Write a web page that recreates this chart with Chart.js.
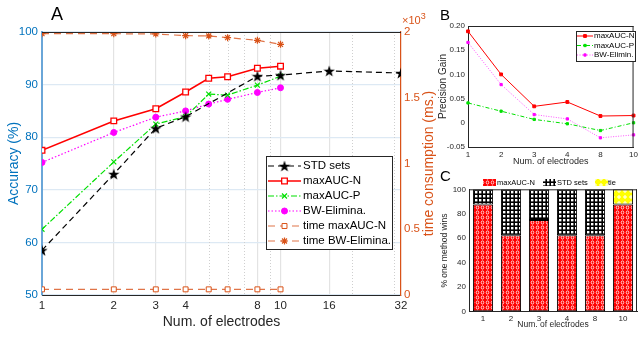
<!DOCTYPE html>
<html>
<head>
<meta charset="utf-8">
<script src="https://cdn.jsdelivr.net/npm/chart.js@4.4.0/dist/chart.umd.min.js"></script>
<style>
body { margin: 0; background: #fff; width: 641px; height: 337px; overflow: hidden; position: relative; font-family: "Liberation Sans", Arial, sans-serif; }
canvas { position: absolute; }
.lbl { position: absolute; color: #000; white-space: nowrap; }
</style>
</head>
<body>
<canvas id="cA" width="445" height="337" style="left:0;top:0"></canvas>
<canvas id="cB" width="211" height="172" style="left:430px;top:0"></canvas>
<canvas id="cC" width="211" height="167" style="left:430px;top:170px"></canvas>
<div class="lbl" style="left:51px;top:5px;font-size:18px;line-height:18px">A</div>
<div class="lbl" style="left:440px;top:7px;font-size:15px;line-height:15px">B</div>
<div class="lbl" style="left:440px;top:168px;font-size:15px;line-height:15px">C</div>
<div class="lbl" style="left:402px;top:15px;font-size:11px;line-height:11px;color:#d95319">&times;10<span style="font-size:9px;position:relative;top:-5px">3</span></div>
<script>
// panel A: accuracy / time vs number of electrodes
var elecA = [1, 2, 3, 4, 5, 6, 8, 10];
var elecStd = [1, 2, 3, 4, 8, 10, 16, 32];
var accStd = [58.5, 73.0, 81.7, 83.9, 91.6, 91.8, 92.6, 92.2];
var accMaxN = [77.5, 83.1, 85.4, 88.6, 91.2, 91.5, 93.1, 93.5];
var accMaxP = [62.5, 75.3, 82.5, 83.9, 88.2, 88.0, 89.9, 91.6];
var accBW = [75.2, 80.9, 83.8, 85.0, 86.3, 87.2, 88.5, 89.4];
var timeMaxN = [43, 43, 43, 43, 43, 43, 43, 43];
var timeBW = [1987, 1987, 1985, 1972, 1970, 1957, 1937, 1906];
var xTicksA = [1, 2, 3, 4, 8, 10, 16, 32];
var xMinorA = [5, 6, 7, 9, 20, 30];

// panel B: precision gain
var elecB = ['1', '2', '3', '4', '8', '10'];
var gainMaxN = [0.189, 0.100, 0.034, 0.043, 0.014, 0.015];
var gainMaxP = [0.041, 0.024, 0.007, -0.002, -0.016, 0.000];
var gainBW = [0.166, 0.079, 0.017, 0.008, -0.031, -0.025];

// panel C: % one method wins
var elecC = ['1', '2', '3', '4', '8', '10'];
var winMaxN = [87.5, 62.5, 75, 62.5, 62.5, 87.5];
var winStd = [12.5, 37.5, 25, 37.5, 37.5, 0];
var winTie = [0, 0, 0, 0, 0, 12.5];

Chart.defaults.font.family = '"Liberation Sans", Arial, sans-serif';
Chart.defaults.color = '#262626';

var blue = '#0072bd';
var orange = '#d95319';
var orangeLine = '#e07448';

function pts(xs, ys) {
	return xs.map(function(x, i) { return {x: x, y: ys[i]}; });
}

function starImg(size, color) {
	var c = document.createElement('canvas');
	c.width = c.height = size;
	var g = c.getContext('2d');
	g.fillStyle = color;
	g.beginPath();
	for (var i = 0; i < 10; i++) {
		var r = i % 2 ? size * 0.2 : size * 0.5;
		var a = -Math.PI / 2 + i * Math.PI / 5;
		g.lineTo(size / 2 + r * Math.cos(a), size / 2 + r * Math.sin(a) + size * 0.05);
	}
	g.closePath();
	g.fill();
	return c;
}

function makePattern(bg, w, h, draw) {
	var c = document.createElement('canvas');
	c.width = w; c.height = h;
	var g = c.getContext('2d');
	g.fillStyle = bg;
	g.fillRect(0, 0, w, h);
	draw(g);
	return g.createPattern(c, 'repeat');
}

function frame(color) {
	return {
		id: 'frame',
		afterDraw: function(chart) {
			var a = chart.chartArea, ctx = chart.ctx;
			ctx.save();
			ctx.strokeStyle = color;
			ctx.lineWidth = 1;
			ctx.beginPath();
			ctx.moveTo(a.left, a.top + 0.5);
			ctx.lineTo(a.right, a.top + 0.5);
			if (chart.canvas.id !== 'cA') {
				ctx.moveTo(a.right - 0.5, a.top);
				ctx.lineTo(a.right - 0.5, a.bottom);
			}
			ctx.stroke();
			ctx.restore();
		}
	};
}

// minor vertical grid for panel A (dotted)
var minorGrid = {
	id: 'minorGrid',
	beforeDatasetsDraw: function(chart) {
		var a = chart.chartArea, ctx = chart.ctx, sx = chart.scales.x;
		ctx.save();
		ctx.strokeStyle = '#cfcfcf';
		ctx.lineWidth = 1;
		ctx.setLineDash([1, 2]);
		ctx.beginPath();
		xMinorA.forEach(function(v) {
			var px = Math.round(sx.getPixelForValue(v)) + 0.5;
			ctx.moveTo(px, a.top);
			ctx.lineTo(px, a.bottom);
		});
		ctx.stroke();
		ctx.restore();
	}
};

function lineLegend(box, rows, x0, x1, tx, font) {
	return {
		id: 'lineLegend',
		afterDraw: function(chart) {
			var ctx = chart.ctx;
			ctx.save();
			ctx.fillStyle = '#fff';
			ctx.strokeStyle = '#262626';
			ctx.lineWidth = 1;
			ctx.fillRect(box[0], box[1], box[2], box[3]);
			ctx.strokeRect(box[0] + 0.5, box[1] + 0.5, box[2], box[3]);
			chart.data.datasets.forEach(function(ds, i) {
				var y = rows[i];
				ctx.setLineDash(ds.borderDash || []);
				ctx.strokeStyle = ds.borderColor;
				ctx.lineWidth = ds.borderWidth;
				ctx.beginPath();
				ctx.moveTo(x0, y);
				ctx.lineTo(x1, y);
				ctx.stroke();
				ctx.setLineDash([]);
				ctx.fillStyle = ds.pointBackgroundColor;
				ctx.strokeStyle = ds.pointBorderColor;
				ctx.lineWidth = ds.pointBorderWidth;
				Chart.helpers.drawPoint(ctx, {pointStyle: ds.pointStyle, radius: ds.pointRadius, rotation: 0, borderWidth: ds.pointBorderWidth}, (x0 + x1) / 2, y);
				ctx.fillStyle = '#000';
				ctx.font = font;
				ctx.textBaseline = 'middle';
				ctx.textAlign = 'left';
				ctx.fillText(ds.label, tx, y);
			});
			ctx.restore();
		}
	};
}

var rightTitle = {
	id: 'rightTitle',
	afterDraw: function(chart) {
		var ctx = chart.ctx, a = chart.chartArea;
		ctx.save();
		ctx.translate(429, (a.top + a.bottom) / 2);
		ctx.rotate(-Math.PI / 2);
		ctx.font = '14px "Liberation Sans", Arial, sans-serif';
		ctx.fillStyle = orange;
		ctx.textAlign = 'center';
		ctx.textBaseline = 'middle';
		ctx.fillText('time consumption (ms.)', 0, 0);
		ctx.restore();
	}
};

var chartA = new Chart(document.getElementById('cA'), {
	type: 'line',
	data: {
		datasets: [
			{
				label: 'STD sets',
				data: pts(elecStd, accStd),
				yAxisID: 'y',
				borderColor: '#000',
				borderWidth: 1.2,
				borderDash: [6, 4],
				pointStyle: starImg(12, '#000'),
				pointRadius: 5,
				pointBackgroundColor: '#000',
				pointBorderColor: '#000',
				pointBorderWidth: 1
			},
			{
				label: 'maxAUC-N',
				data: pts(elecA, accMaxN),
				yAxisID: 'y',
				borderColor: '#ff0000',
				borderWidth: 1.6,
				borderDash: [],
				pointStyle: 'rect',
				pointRadius: 4,
				pointBackgroundColor: '#fff',
				pointBorderColor: '#ff0000',
				pointBorderWidth: 1.3
			},
			{
				label: 'maxAUC-P',
				data: pts(elecA, accMaxP),
				yAxisID: 'y',
				borderColor: '#00e000',
				borderWidth: 1.2,
				borderDash: [6, 2, 1.5, 2],
				pointStyle: 'crossRot',
				pointRadius: 3.5,
				pointBackgroundColor: '#00e000',
				pointBorderColor: '#00e000',
				pointBorderWidth: 1.2
			},
			{
				label: 'BW-Elimina.',
				data: pts(elecA, accBW),
				yAxisID: 'y',
				borderColor: '#ff00ff',
				borderWidth: 1.2,
				borderDash: [1.5, 2],
				pointStyle: 'circle',
				pointRadius: 3,
				pointBackgroundColor: '#ff00ff',
				pointBorderColor: '#ff00ff',
				pointBorderWidth: 1
			},
			{
				label: 'time maxAUC-N',
				data: pts(elecA, timeMaxN),
				yAxisID: 'y1',
				borderColor: orangeLine,
				borderWidth: 1.2,
				borderDash: [7, 5],
				pointStyle: 'rect',
				pointRadius: 3.5,
				pointBackgroundColor: '#fff',
				pointBorderColor: orange,
				pointBorderWidth: 1
			},
			{
				label: 'time BW-Elimina.',
				data: pts(elecA, timeBW),
				yAxisID: 'y1',
				borderColor: orangeLine,
				borderWidth: 1.2,
				borderDash: [7, 5],
				pointStyle: 'star',
				pointRadius: 3.5,
				pointBackgroundColor: orange,
				pointBorderColor: orange,
				pointBorderWidth: 1.2
			}
		]
	},
	options: {
		responsive: false,
		animation: false,
		devicePixelRatio: 1,
		layout: {padding: {top: 32, left: 0, right: 0, bottom: 0}},
		elements: {line: {tension: 0}},
		plugins: {legend: {display: false}, tooltip: {enabled: false}},
		scales: {
			x: {
				type: 'logarithmic', min: 1, max: 32, position: 'bottom',
				afterBuildTicks: function(s) { s.ticks = xTicksA.map(function(v) { return {value: v}; }); },
				afterFit: function(s) { s.height = 42; },
				ticks: {callback: function(v) { return String(v); }, font: {size: 11.5}, color: '#262626', padding: 4, autoSkip: false, maxRotation: 0},
				grid: {color: '#e3e3e3', lineWidth: 1.2, drawTicks: false},
				border: {color: '#262626', width: 1},
				title: {display: true, text: 'Num. of electrodes', font: {size: 14}, color: '#262626', padding: {top: 0, bottom: 6.6}}
			},
			y: {
				type: 'linear', position: 'left', min: 50, max: 100,
				afterFit: function(s) { s.width = 42; },
				ticks: {stepSize: 10, font: {size: 11.5}, color: blue, padding: 4},
				grid: {color: '#dde9f4', lineWidth: 1.2, drawTicks: false},
				border: {color: '#6aa6d8', width: 2},
				title: {display: true, text: 'Accuracy (%)', font: {size: 14}, color: blue, padding: {top: 5.6, bottom: 0}}
			},
			y1: {
				type: 'linear', position: 'right', min: 0, max: 2000,
				afterFit: function(s) { s.width = 44; },
				ticks: {stepSize: 500, font: {size: 11.5}, color: orange, padding: 3, callback: function(v) { return String(v / 1000); }},
				grid: {drawOnChartArea: false, drawTicks: false},
				border: {color: orange, width: 1.2}
			}
		}
	},
	plugins: [minorGrid, frame('#262626'), rightTitle, lineLegend([266, 156, 126, 93], [166, 181, 196, 211, 226, 241], 268, 301, 303, '11.5px "Liberation Sans", Arial, sans-serif')]
});

var chartB = new Chart(document.getElementById('cB'), {
	type: 'line',
	data: {
		labels: elecB,
		datasets: [
			{label: 'maxAUC-N', data: gainMaxN, borderColor: '#ff0000', borderWidth: 1, borderDash: [], pointStyle: 'rect', pointRadius: 2, pointBackgroundColor: '#ff0000', pointBorderColor: '#ff0000', pointBorderWidth: 1},
			{label: 'maxAUC-P', data: gainMaxP, borderColor: '#00e000', borderWidth: 1, borderDash: [4, 2, 1, 2], pointStyle: 'rect', pointRadius: 1.6, pointBackgroundColor: '#00e000', pointBorderColor: '#00e000', pointBorderWidth: 1},
			{label: 'BW-Elimin.', data: gainBW, borderColor: '#ff55ff', borderWidth: 1, borderDash: [1, 1.5], pointStyle: 'rect', pointRadius: 1.6, pointBackgroundColor: '#ff00ff', pointBorderColor: '#ff00ff', pointBorderWidth: 1}
		]
	},
	options: {
		responsive: false,
		animation: false,
		devicePixelRatio: 1,
		layout: {padding: {top: 26, left: 0, right: 1, bottom: 0}},
		elements: {line: {tension: 0}},
		plugins: {legend: {display: false}, tooltip: {enabled: false}},
		scales: {
			x: {
				offset: false,
				afterFit: function(s) { s.height = 25; },
				ticks: {font: {size: 8}, color: '#262626', padding: 3, maxRotation: 0},
				grid: {drawOnChartArea: false, drawTicks: false},
				border: {color: '#262626', width: 1},
				title: {display: true, text: 'Num. of electrodes', font: {size: 9}, color: '#262626', padding: {top: 0, bottom: 4.6}}
			},
			y: {
				min: -0.05, max: 0.2,
				afterFit: function(s) { s.width = 38; },
				ticks: {stepSize: 0.05, font: {size: 8}, color: '#262626', padding: 3},
				grid: {drawOnChartArea: false, drawTicks: false},
				border: {color: '#262626', width: 1},
				title: {display: true, text: 'Precision Gain', font: {size: 10}, color: '#262626', padding: {top: 7, bottom: 0}}
			}
		}
	},
	plugins: [frame('#262626'), lineLegend([146, 31, 59, 30], [36, 45.5, 55], 147, 163, 164, '8px "Liberation Sans", Arial, sans-serif')]
});

var redPat = makePattern('#ff0000', 5, 5, function(g) {
	g.strokeStyle = '#fff'; g.lineWidth = 0.8;
	g.beginPath(); g.ellipse(2.5, 2.5, 1.3, 1.6, 0, 0, 2 * Math.PI); g.stroke();
});
var blackPat = makePattern('#000', 4, 4, function(g) {
	g.fillStyle = '#fff'; g.fillRect(1, 1, 2.4, 2.4);
});
var yellowPat = makePattern('#ffff00', 6, 6, function(g) {
	g.strokeStyle = '#fff'; g.lineWidth = 1;
	g.beginPath(); g.moveTo(1, 3); g.lineTo(5, 3); g.moveTo(3, 1); g.lineTo(3, 5); g.stroke();
});

var barLegend = {
	id: 'barLegend',
	afterDraw: function(chart) {
		var ctx = chart.ctx;
		var items = [[53, 67], [113, 127], [165, 178]];
		ctx.save();
		ctx.font = '7.5px "Liberation Sans", Arial, sans-serif';
		ctx.textBaseline = 'middle';
		chart.data.datasets.forEach(function(ds, i) {
			ctx.fillStyle = ds.backgroundColor;
			ctx.fillRect(items[i][0], 9, 13, 7);
			ctx.fillStyle = '#000';
			ctx.fillText(ds.label, items[i][1], 12.7);
		});
		ctx.restore();
	}
};

var chartC = new Chart(document.getElementById('cC'), {
	type: 'bar',
	data: {
		labels: elecC,
		datasets: [
			{label: 'maxAUC-N', data: winMaxN, backgroundColor: redPat},
			{label: 'STD sets', data: winStd, backgroundColor: blackPat},
			{label: 'tie', data: winTie, backgroundColor: yellowPat}
		]
	},
	options: {
		responsive: false,
		animation: false,
		devicePixelRatio: 1,
		layout: {padding: {top: 19.3, left: 0, right: 4, bottom: 0}},
		datasets: {bar: {barPercentage: 0.72, categoryPercentage: 1, borderColor: '#000', borderWidth: 1, borderSkipped: false}},
		plugins: {legend: {display: false}, tooltip: {enabled: false}},
		scales: {
			x: {
				stacked: true,
				afterFit: function(s) { s.height = 25.3; },
				ticks: {font: {size: 8}, color: '#262626', padding: 2, maxRotation: 0},
				grid: {drawOnChartArea: false, drawTicks: false},
				border: {color: '#262626', width: 1},
				title: {display: true, text: 'Num. of electrodes', font: {size: 8.5}, color: '#262626', padding: {top: 0, bottom: 7.6}}
			},
			y: {
				stacked: true, min: 0, max: 100,
				afterFit: function(s) { s.width = 39; },
				ticks: {stepSize: 20, font: {size: 8}, color: '#262626', padding: 3},
				grid: {drawOnChartArea: false, drawTicks: false},
				border: {color: '#262626', width: 1},
				title: {display: true, text: '% one method wins', font: {size: 8.5}, color: '#262626', padding: {top: 10, bottom: 0}}
			}
		}
	},
	plugins: [frame('#262626'), barLegend]
});
</script>
</body>
</html>
